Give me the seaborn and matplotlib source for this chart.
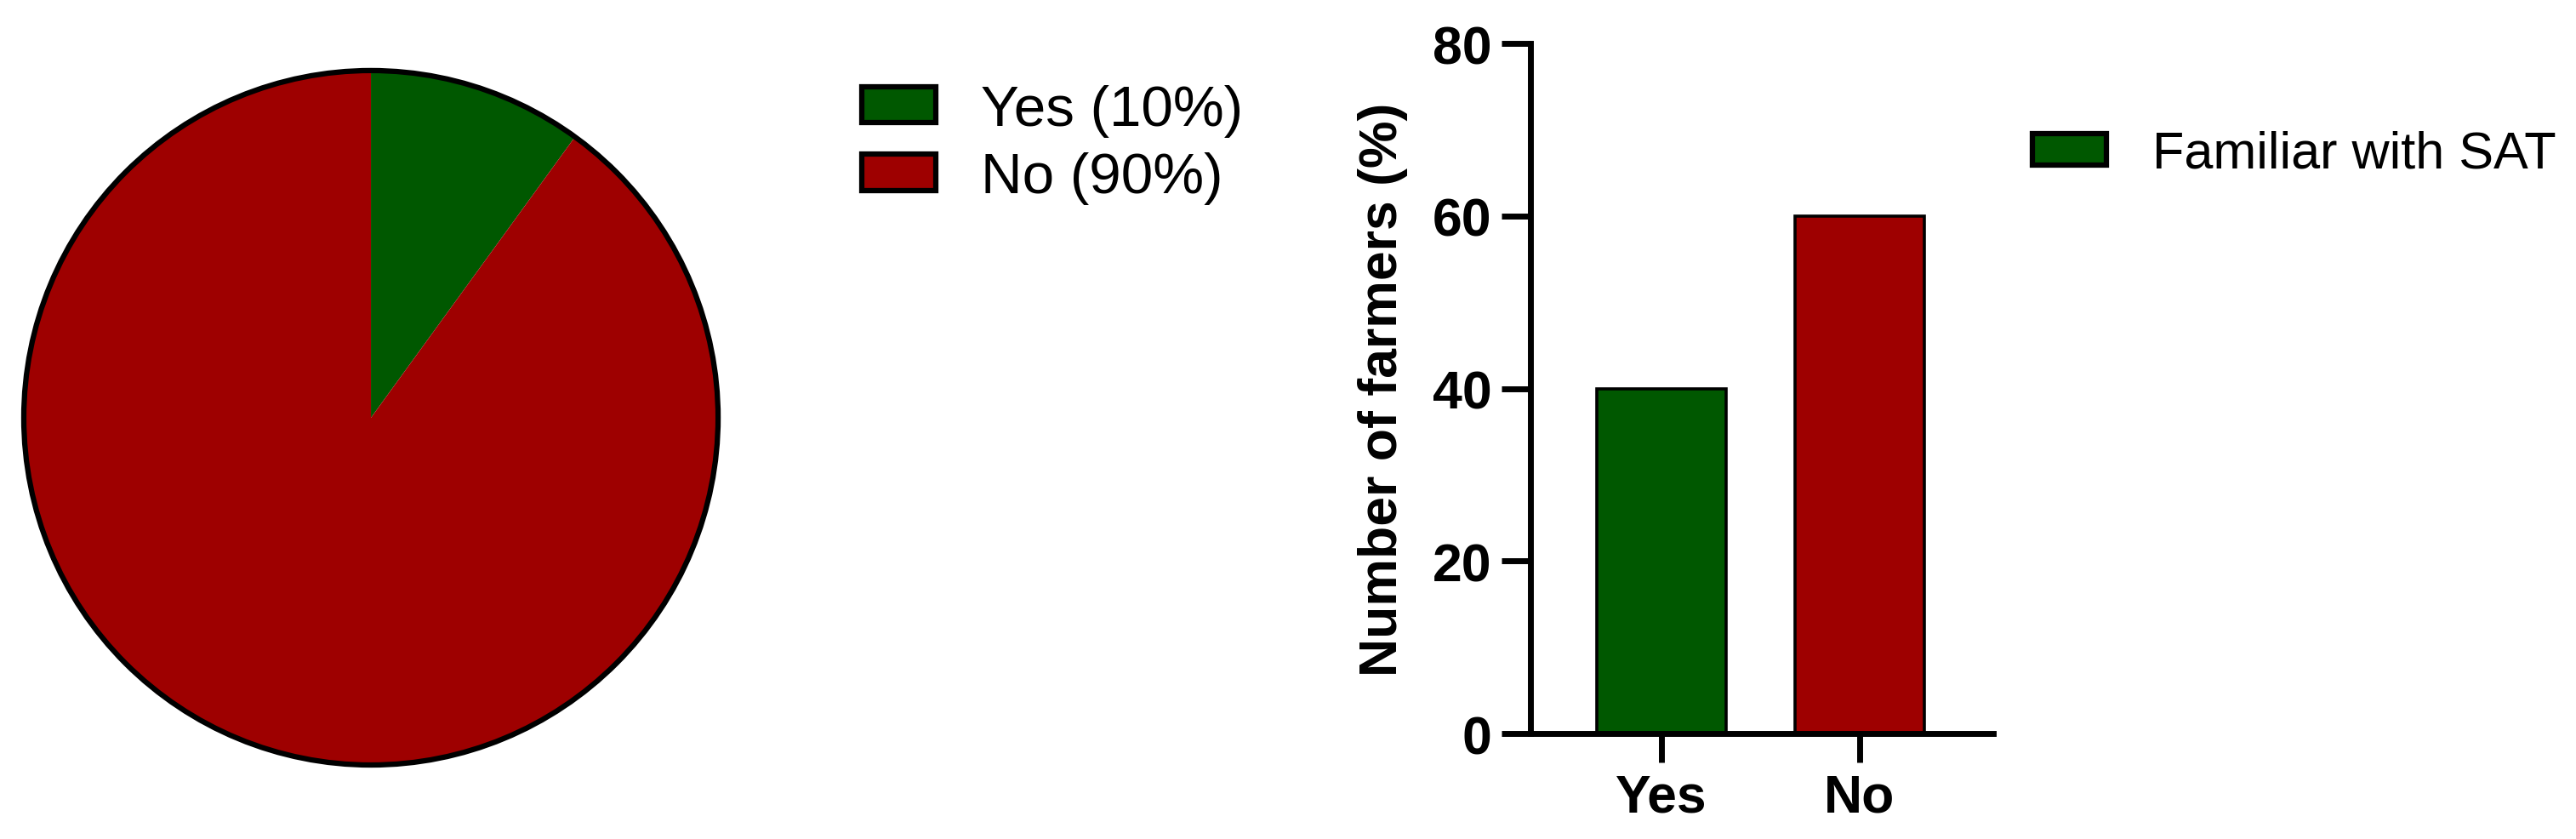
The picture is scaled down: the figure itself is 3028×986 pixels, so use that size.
import numpy as np
import pandas as pd
import matplotlib
matplotlib.use("Agg")
import matplotlib.pyplot as plt
from matplotlib.patches import Circle, Patch
import seaborn as sns

# pie data
pie_labels = ["Yes (10%)", "No (90%)"]
pie_values = [10, 90]

# bar data
bar_cats = ["Yes", "No"]
bar_values = [40, 60]
bar_legend = "Familiar with SAT"
y_ticks = [0, 20, 40, 60, 80]

green = "#005800"
red = "#9e0000"

sns.set_style("white")
plt.rcParams["font.family"] = ["Liberation Sans", "DejaVu Sans"]
plt.rcParams["text.color"] = "black"
plt.rcParams["axes.labelcolor"] = "black"
plt.rcParams["xtick.color"] = "black"
plt.rcParams["ytick.color"] = "black"

fig = plt.figure(figsize=(30.28, 9.87), dpi=100)

# Pie on the left
ax1 = fig.add_axes([0.0025, 0.0674, 0.283, 0.8683])
wedges, _ = ax1.pie(pie_values, colors=[green, red], startangle=90,
                    counterclock=False, wedgeprops=dict(linewidth=0))
ax1.add_patch(Circle((0, 0), 1, fill=False, edgecolor="black", linewidth=4.5))
ax1.set_xlim(-1.05, 1.05)
ax1.set_ylim(-1.05, 1.05)
ax1.set_aspect("equal")
ax1.axis("off")

pie_handles = [Patch(facecolor=c, edgecolor="black", linewidth=4.5) for c in [green, red]]
fig.legend(handles=pie_handles, labels=pie_labels, loc="upper left",
           bbox_to_anchor=(0.3345, 0.899), fontsize=48.5, handlelength=1.3,
           handleheight=0.6, handletextpad=0.78, labelspacing=0.26,
           borderpad=0, borderaxespad=0, frameon=False)

# Bar chart on the right
df = pd.DataFrame({"answer": bar_cats, "percent": bar_values})
ax2 = fig.add_axes([0.5941, 0.1256, 0.1797, 0.8217])
sns.barplot(data=df, x="answer", y="percent", hue="answer", palette=[green, red],
            width=0.65, edgecolor="black", linewidth=2.6, saturation=1,
            legend=False, ax=ax2)
ax2.set_xlim(-0.661, 1.674)
ax2.set_ylim(0, 80)
ax2.set_yticks(y_ticks)
sns.despine(ax=ax2)
for s in ["left", "bottom"]:
    ax2.spines[s].set_linewidth(5)
    ax2.spines[s].set_color("black")
ax2.tick_params(bottom=True, left=True, length=24.5, width=5, color="black",
                labelcolor="black", labelsize=45, pad=8)
plt.setp(ax2.get_xticklabels(), fontweight="bold")
plt.setp(ax2.get_yticklabels(), fontweight="bold")
ax2.set_xlabel("")
ax2.set_ylabel("Number of farmers (%)", fontsize=45, fontweight="bold", labelpad=21)

ax2.legend(handles=[Patch(facecolor=green, edgecolor="black", linewidth=4.5)],
           labels=[bar_legend], loc="upper left", bbox_to_anchor=(0.789, 0.844),
           bbox_transform=fig.transFigure, frameon=False, fontsize=44,
           handlelength=1.43, handleheight=0.57, handletextpad=0.87,
           borderpad=0, borderaxespad=0)

fig.savefig("out.png", dpi=100)
